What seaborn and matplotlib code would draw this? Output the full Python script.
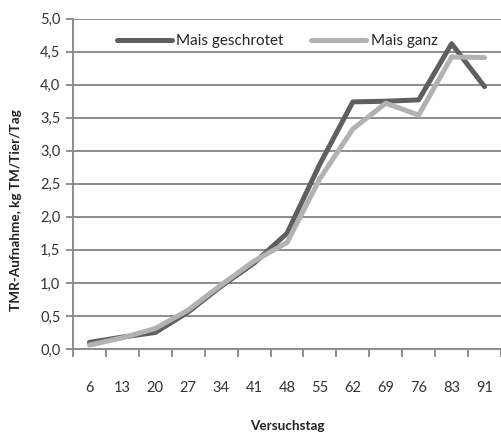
import pandas as pd
import numpy as np
import matplotlib
matplotlib.use('Agg')
import matplotlib.pyplot as plt
import seaborn as sns

# data
tage = ['6', '13', '20', '27', '34', '41', '48', '55', '62', '69', '76', '83', '91']
geschrotet = [0.10, 0.18, 0.25, 0.56, 0.95, 1.30, 1.75, 2.80, 3.74, 3.75, 3.77, 4.62, 3.97]
ganz = [0.06, 0.17, 0.31, 0.59, 0.97, 1.33, 1.61, 2.58, 3.33, 3.72, 3.54, 4.42, 4.41]
serien = ['Mais geschrotet', 'Mais ganz']
farben = ['#5f5f5f', '#b2b2b2']

df = pd.DataFrame({'Versuchstag': tage * 2,
                   'wert': geschrotet + ganz,
                   'serie': [serien[0]] * len(tage) + [serien[1]] * len(tage)})

sns.set_theme(style='white')
plt.rcParams['font.family'] = ['Lato', 'DejaVu Sans']

fig = plt.figure(figsize=(5.01, 4.33), dpi=100)
ax = fig.add_axes([0.1457, 0.194, 0.8543, 0.763])

sns.lineplot(data=df, x='Versuchstag', y='wert', hue='serie', hue_order=serien,
             palette=farben, linewidth=3.6, ax=ax, sort=False)

ax.set_xlim(-0.5, len(tage) - 0.5)
ax.set_ylim(0, 5.0)
ax.set_yticks(np.arange(0, 5.01, 0.5))
ax.set_yticklabels([('%.1f' % v).replace('.', ',') for v in np.arange(0, 5.01, 0.5)])
ax.set_xticks(range(len(tage)))
ax.set_xticklabels(tage)
ax.set_xticks(np.arange(-0.5, len(tage), 1), minor=True)
ax.tick_params(axis='x', which='major', length=0, pad=23, labelsize=10.5, labelcolor='#333333')
ax.tick_params(axis='x', which='minor', length=6, width=1.3, color='#888888', bottom=True)
ax.tick_params(axis='y', length=5, width=1.3, color='#888888', left=True, pad=4,
               labelsize=10.5, labelcolor='#333333')

ax.yaxis.grid(True, color='#8c8c8c', linewidth=1.4)
ax.set_axisbelow(True)
for s in ['top', 'right']:
    ax.spines[s].set_visible(False)
for s in ['left', 'bottom']:
    ax.spines[s].set_color('#8c8c8c')
    ax.spines[s].set_linewidth(1.4)

ax.set_xlabel('Versuchstag', fontsize=9.7, fontweight='bold', color='#222222', labelpad=18)
ax.set_ylabel('TMR-Aufnahme, kg TM/Tier/Tag', fontsize=9.7, fontweight='bold', color='#222222')
ax.yaxis.set_label_coords(-0.12, 0.42)

leg = ax.legend(loc='upper left', bbox_to_anchor=(0.07, 0.995), ncol=2, frameon=False,
                fontsize=11, handlelength=3.6, handletextpad=0.3, columnspacing=1.8)
for line in leg.get_lines():
    line.set_linewidth(3.6)
    line.set_solid_capstyle('round')

fig.savefig('out.png', dpi=100)
